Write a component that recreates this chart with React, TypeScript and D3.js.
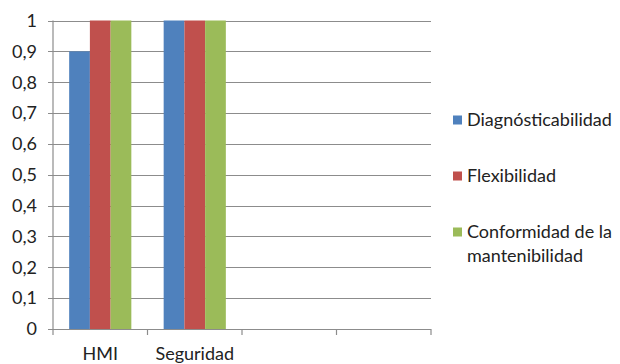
import React from "react";
import * as d3 from "d3";

const categories = ["HMI", "Seguridad", "", " "];
const seriesNames = ["Diagnósticabilidad", "Flexibilidad", "Conformidad de la mantenibilidad"];
const diagnosticabilidad = [0.9, 1, null, null];
const flexibilidad = [1, 1, null, null];
const conformidad = [1, 1, null, null];
const yTicks = [0, 0.1, 0.2, 0.3, 0.4, 0.5, 0.6, 0.7, 0.8, 0.9, 1];
const colors = ["#4F81BD", "#C0504D", "#9BBB59"];

const series = [diagnosticabilidad, flexibilidad, conformidad];

export default function App() {
  const W = 620, H = 364;
  const left = 53, right = 431, top = 20.5, bottom = 329;
  const x = d3.scaleBand().domain(categories).range([left, right]).paddingInner(0).paddingOuter(0);
  const inner = d3.scaleBand().domain(seriesNames).range([0, x.bandwidth()]).paddingOuter(0.78).paddingInner(0);
  const y = d3.scaleLinear().domain([0, 1]).range([bottom, top]);
  const fmt = (v: number) => (v === 0 ? "0" : v === 1 ? "1" : d3.format(".1f")(v).replace(".", ","));
  const font = "Lato, 'Open Sans', sans-serif";
  const fs = 18;
  const grid = "#8C8C8C";
  const legendY = [120, 176, 232];
  const boundaries = categories.map((c) => x(c)!).concat([right]);
  return (
    <svg width={W} height={H} style={{ position: "absolute", left: 0, top: 0, background: "#fff" }}>
      {yTicks.map((t) => (
        <g key={t}>
          <line x1={left - 5} x2={right} y1={Math.round(y(t)) + 0.5} y2={Math.round(y(t)) + 0.5} stroke={grid} strokeWidth={1.2} />
          <text x={37} y={y(t)} dy="0.35em" textAnchor="end" fontSize={fs} fontFamily={font} fill="#222">{fmt(t)}</text>
        </g>
      ))}
      <line x1={left} x2={left} y1={top} y2={bottom} stroke={grid} strokeWidth={1.2} />
      {boundaries.map((b, i) => (
        <line key={i} x1={b} x2={b} y1={bottom} y2={bottom + 6} stroke={grid} strokeWidth={1.2} />
      ))}
      {categories.map((c, ci) => (
        <g key={ci}>
          {series.map((s, si) => {
            const v = s[ci];
            if (v == null) return null;
            const bx = x(c)! + inner(seriesNames[si])!;
            return <rect key={si} x={bx} y={y(v)} width={inner.bandwidth()} height={y(0) - y(v)} fill={colors[si]} />;
          })}
          <text x={x(c)! + x.bandwidth() / 2} y={354} dy="0.35em" textAnchor="middle" fontSize={fs} fontFamily={font} fill="#222">{c}</text>
        </g>
      ))}
      {seriesNames.map((n, i) => (
        <g key={n}>
          <rect x={453} y={legendY[i] - 4.5} width={9} height={9} fill={colors[i]} />
          {i < 2 ? (
            <text x={467} y={legendY[i]} dy="0.35em" fontSize={fs} fontFamily={font} fill="#222">{n}</text>
          ) : (
            <text x={467} y={legendY[i]} dy="0.35em" fontSize={fs} fontFamily={font} fill="#222">
              <tspan x={467}>Conformidad de la</tspan>
              <tspan x={467} dy={24}>mantenibilidad</tspan>
            </text>
          )}
        </g>
      ))}
    </svg>
  );
}
